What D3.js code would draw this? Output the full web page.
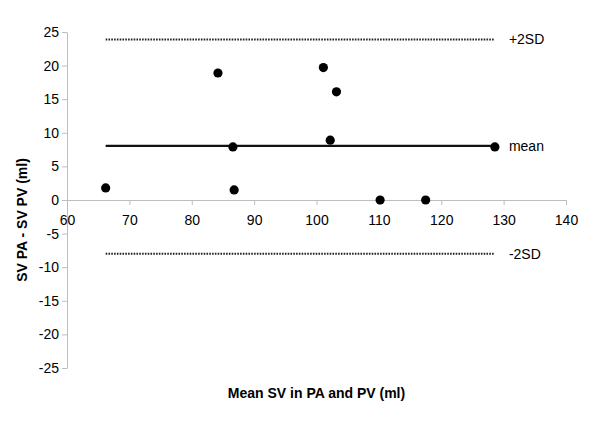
<!DOCTYPE html>
<html><head><meta charset="utf-8">
<script src="https://cdn.jsdelivr.net/npm/d3@7"></script>
<style>body{margin:0;background:#fff;} text{font-family:"Liberation Sans",Arial,sans-serif;}</style>
</head><body><svg id="c" width="600" height="429"></svg>
<script>
const meanSV = [66.2, 84.2, 86.6, 86.8, 101.1, 102.2, 103.2, 110.2, 117.5, 128.6];
const diffSV = [1.8, 18.9, 7.9, 1.5, 19.7, 8.9, 16.1, 0.0, 0.0, 7.9];
const refLabels = ["+2SD", "mean", "-2SD"];
const refValues = [23.9, 8.05, -8.0];
const xTicks = [60, 70, 80, 90, 100, 110, 120, 130, 140];
const yTicks = [25, 20, 15, 10, 5, 0, -5, -10, -15, -20, -25];
const xTitle = "Mean SV in PA and PV (ml)";
const yTitle = "SV PA - SV PV (ml)";

const svg = d3.select("#c");
const x = d3.scaleLinear().domain([60, 140]).range([67, 566]);
const y = d3.scaleLinear().domain([-25, 25]).range([368, 32]);
const axisColor = "#bdbdbd";
const fmt = d => String(d);

// y axis
const ya = svg.append("g").attr("transform", `translate(${x(60)},0)`)
  .call(d3.axisLeft(y).tickValues(yTicks).tickFormat(fmt).tickSize(5).tickSizeOuter(0).tickPadding(3));
ya.select(".domain").attr("stroke", axisColor);
ya.selectAll(".tick line").attr("stroke", axisColor);
ya.selectAll(".tick text").attr("font-size", 14).attr("fill", "#000")
  .attr("font-family", "Liberation Sans, Arial, sans-serif");

// x axis at y=0
const xa = svg.append("g").attr("transform", `translate(0,${y(0)})`)
  .call(d3.axisBottom(x).tickValues(xTicks).tickFormat(fmt).tickSize(5).tickSizeOuter(0).tickPadding(10));
xa.select(".domain").attr("stroke", axisColor);
xa.selectAll(".tick line").attr("stroke", axisColor);
xa.selectAll(".tick text").attr("font-size", 14).attr("fill", "#000")
  .attr("font-family", "Liberation Sans, Arial, sans-serif");

const xMin = d3.min(meanSV), xMax = d3.max(meanSV);
// reference lines
refValues.forEach((v, i) => {
  const isMean = refLabels[i] === "mean";
  svg.append("line").attr("x1", x(xMin)).attr("x2", x(xMax))
    .attr("y1", y(v)).attr("y2", y(v))
    .attr("stroke", isMean ? "#111" : "#222")
    .attr("stroke-width", isMean ? 2.2 : 2)
    .attr("stroke-dasharray", isMean ? null : "1.6,1.2");
  svg.append("text").attr("x", x(xMax) + 14).attr("y", y(v)).attr("dy", "0.35em")
    .attr("font-size", 14).text(refLabels[i]);
});

// points
svg.append("g").selectAll("circle").data(meanSV).join("circle")
  .attr("cx", d => x(d)).attr("cy", (d, i) => y(diffSV[i])).attr("r", 4.6).attr("fill", "#000");

// titles
svg.append("text").attr("x", (x(60) + x(140)) / 2).attr("y", 393).attr("dy", "0.35em")
  .attr("text-anchor", "middle").attr("font-weight", "bold").attr("font-size", 14).text(xTitle);
svg.append("text").attr("transform", `translate(22,220) rotate(-90)`).attr("dy", "0.35em")
  .attr("text-anchor", "middle").attr("font-weight", "bold").attr("font-size", 14).text(yTitle);
</script></body></html>
